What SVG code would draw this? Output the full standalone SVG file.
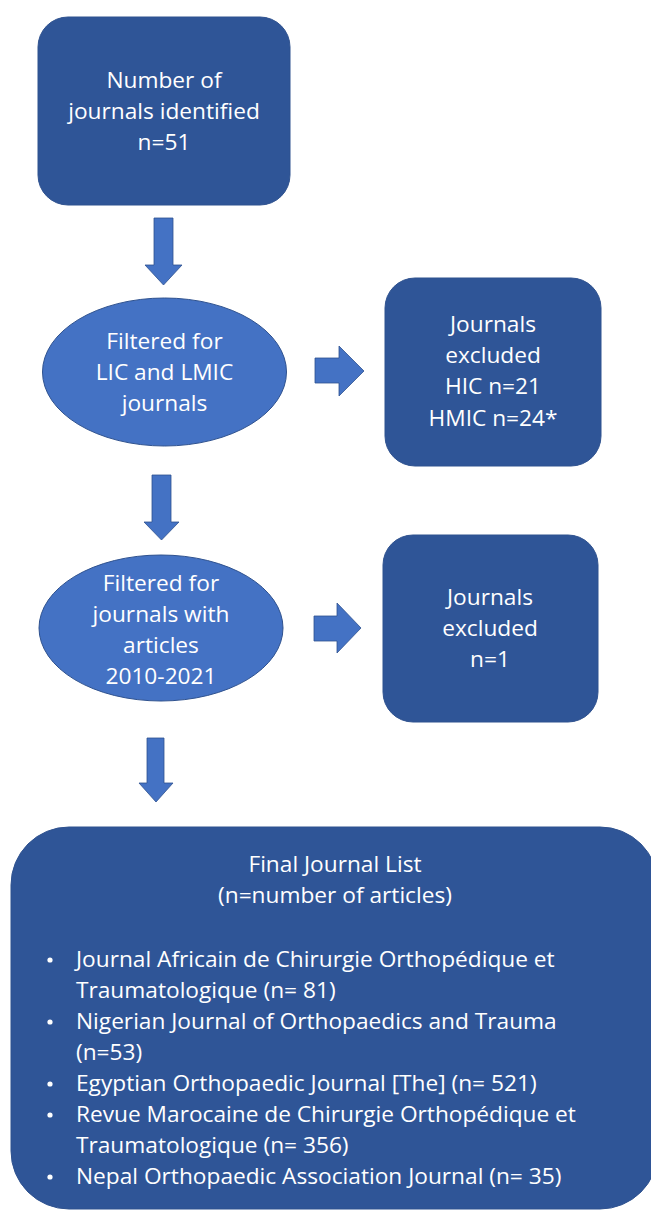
<svg xmlns="http://www.w3.org/2000/svg" width="651" height="1210" viewBox="0 0 651 1210">
<defs>
<style>
.box{fill:#2F5597;stroke:#2F528F;stroke-width:1}
.ell{fill:#4472C4;stroke:#2F528F;stroke-width:1}
.arr{fill:#4472C4;stroke:#2F528F;stroke-width:0.8}
text{font-family:"Open Sans","Noto Sans","Liberation Sans",sans-serif;font-size:22.7px;fill:#ffffff}
.c{text-anchor:middle}
</style>
</defs>
<rect width="651" height="1210" fill="#ffffff"/>
<g id="connectors">
<polygon class="arr" points="154,218 173,218 173,265 182,265 163.5,285 145,265 154,265"/>
<polygon class="arr" points="315,358 339,358 339,346 364,371 339,396 339,383 315,383"/>
<polygon class="arr" points="152,475 171,475 171,522 179,522 161.5,540 144,522 152,522"/>
<polygon class="arr" points="314,616 337,616 337,603 361,628 337,653 337,641 314,641"/>
<polygon class="arr" points="147,738 164,738 164,783 173,783 156,802 139,783 147,783"/>
</g>
<g id="n1">
<rect class="box" x="38" y="17" width="252" height="188" rx="30"/>
<text class="c" x="164" y="88">Number of</text>
<text class="c" x="164" y="119">journals identified</text>
<text class="c" x="164" y="150">n=51</text>
</g>
<g id="n2">
<ellipse class="ell" cx="164.5" cy="372" rx="122" ry="74"/>
<text class="c" x="164.5" y="349">Filtered for</text>
<text class="c" x="164.5" y="380">LIC and LMIC</text>
<text class="c" x="164.5" y="411">journals</text>
</g>
<g id="n3">
<rect class="box" x="385" y="278" width="216" height="188" rx="30"/>
<text class="c" x="493" y="332">Journals</text>
<text class="c" x="493" y="363">excluded</text>
<text class="c" x="493" y="394">HIC n=21</text>
<text class="c" x="493" y="426">HMIC n=24*</text>
</g>
<g id="n4">
<ellipse class="ell" cx="161" cy="628" rx="122" ry="73"/>
<text class="c" x="161" y="591">Filtered for</text>
<text class="c" x="161" y="622">journals with</text>
<text class="c" x="161" y="653">articles</text>
<text class="c" x="161" y="684">2010-2021</text>
</g>
<g id="n5">
<rect class="box" x="383" y="535" width="215" height="187" rx="30"/>
<text class="c" x="490" y="605">Journals</text>
<text class="c" x="490" y="636">excluded</text>
<text class="c" x="490" y="667">n=1</text>
</g>
<g id="n6">
<rect class="box" x="11" y="827" width="647" height="382" rx="58"/>
<text class="c" x="335" y="872">Final Journal List</text>
<text class="c" x="335" y="903">(n=number of articles)</text>
<g fill="#ffffff">
<circle cx="50" cy="960" r="2.6"/>
<circle cx="50" cy="1022" r="2.6"/>
<circle cx="50" cy="1084" r="2.6"/>
<circle cx="50" cy="1115" r="2.6"/>
<circle cx="50" cy="1177" r="2.6"/>
</g>
<text x="76" y="967">Journal Africain de Chirurgie Orthopédique et</text>
<text x="76" y="998">Traumatologique (n= 81)</text>
<text x="76" y="1029">Nigerian Journal of Orthopaedics and Trauma</text>
<text x="76" y="1060">(n=53)</text>
<text x="76" y="1091">Egyptian Orthopaedic Journal [The] (n= 521)</text>
<text x="76" y="1122">Revue Marocaine de Chirurgie Orthopédique et</text>
<text x="76" y="1153">Traumatologique (n= 356)</text>
<text x="76" y="1184">Nepal Orthopaedic Association Journal (n= 35)</text>
</g>
</svg>
